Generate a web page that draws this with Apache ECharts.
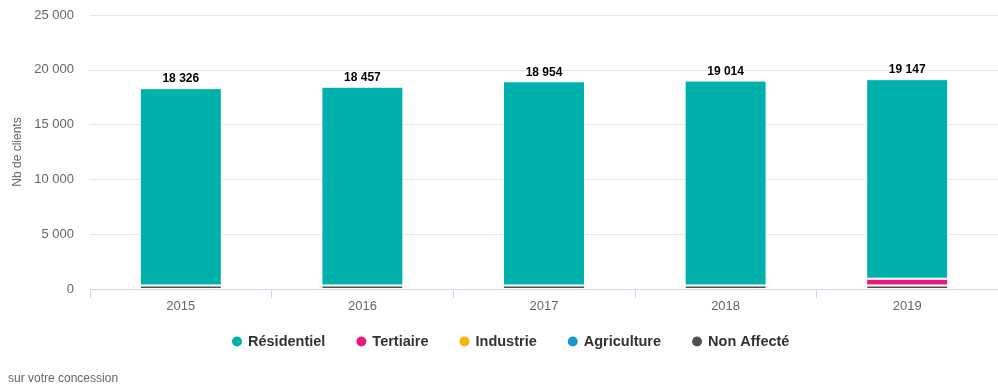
<!DOCTYPE html>
<html>
<head>
<meta charset="utf-8">
<script src="https://cdn.jsdelivr.net/npm/echarts@6/dist/echarts.min.js"></script>
<style>
  html, body { margin: 0; padding: 0; background: #fff; }
  #chart { width: 998px; height: 387px; }
</style>
</head>
<body>
<div id="chart"></div>
<script>
// Number of customers per year, by sector
const years = ['2015', '2016', '2017', '2018', '2019'];
const residentiel = [18006, 18137, 18634, 18694, 18207];
const tertiaire = [0, 0, 0, 0, 620];
const industrie = [0, 0, 0, 0, 0];
const agriculture = [0, 0, 0, 0, 0];
const nonAffecte = [320, 320, 320, 320, 320];
const yTicks = [0, 5000, 10000, 15000, 20000, 25000];

const fmt = v => String(v).replace(/\B(?=(\d{3})+(?!\d))/g, ' ');

const chart = echarts.init(document.getElementById('chart'));
const font = 'Liberation Sans, Arial, sans-serif';

const allSeries = [
  { name: 'Non Affecté', data: nonAffecte, color: '#505050' },
  { name: 'Agriculture', data: agriculture, color: '#1996c8' },
  { name: 'Industrie', data: industrie, color: '#f8b400' },
  { name: 'Tertiaire', data: tertiaire, color: '#e5197e' },
  { name: 'Résidentiel', data: residentiel, color: '#00b0aa' }
];

const totals = years.map((_, i) => allSeries.reduce((s, ser) => s + ser.data[i], 0));

chart.setOption({
  animation: false,
  textStyle: { fontFamily: font },
  grid: { left: 90, right: -8, top: 15, bottom: 98 },
  legend: {
    data: ['Résidentiel', 'Tertiaire', 'Industrie', 'Agriculture', 'Non Affecté'],
    bottom: 33,
    left: 225,
    icon: 'circle',
    itemWidth: 12,
    itemHeight: 12,
    itemGap: 29,
    textStyle: { fontFamily: font, fontSize: 14.5, fontWeight: 'bold', color: '#333' }
  },
  graphic: [{
    type: 'text',
    left: 8,
    top: 373,
    style: { text: 'sur votre concession', fontFamily: font, fontSize: 12, fill: '#666' }
  }],
  xAxis: {
    type: 'category',
    data: years,
    axisLine: { lineStyle: { color: '#ccd6eb' } },
    axisTick: { show: true, alignWithLabel: false, length: 9, lineStyle: { color: '#ccd6eb' } },
    axisLabel: { color: '#666', fontSize: 13, margin: 11 }
  },
  yAxis: {
    type: 'value',
    min: 0,
    max: 25000,
    interval: 5000,
    name: 'Nb de clients',
    nameLocation: 'middle',
    nameGap: 66,
    nameTextStyle: { color: '#666', fontSize: 12 },
    axisLine: { show: false },
    axisTick: { show: false },
    splitLine: { lineStyle: { color: '#e6e6e6' } },
    axisLabel: {
      color: '#666', fontSize: 13, margin: 16,
      formatter: v => yTicks.includes(v) ? fmt(v) : ''
    }
  },
  series: allSeries.map((s, idx) => ({
    name: s.name,
    type: 'bar',
    stack: 'total',
    // empty segments are left out so their border does not cover the others
    data: s.data.map(v => (v === 0 ? '-' : v)),
    barWidth: 82,
    itemStyle: { color: s.color, borderColor: '#fff', borderWidth: 1 },
    label: idx === allSeries.length - 1 ? {
      show: true,
      position: 'top',
      distance: 3,
      formatter: p => fmt(totals[p.dataIndex]),
      color: '#000',
      fontSize: 12,
      fontWeight: 'bold',
      fontFamily: font,
      textBorderColor: '#fff',
      textBorderWidth: 2
    } : { show: false }
  }))
});
</script>
</body>
</html>
